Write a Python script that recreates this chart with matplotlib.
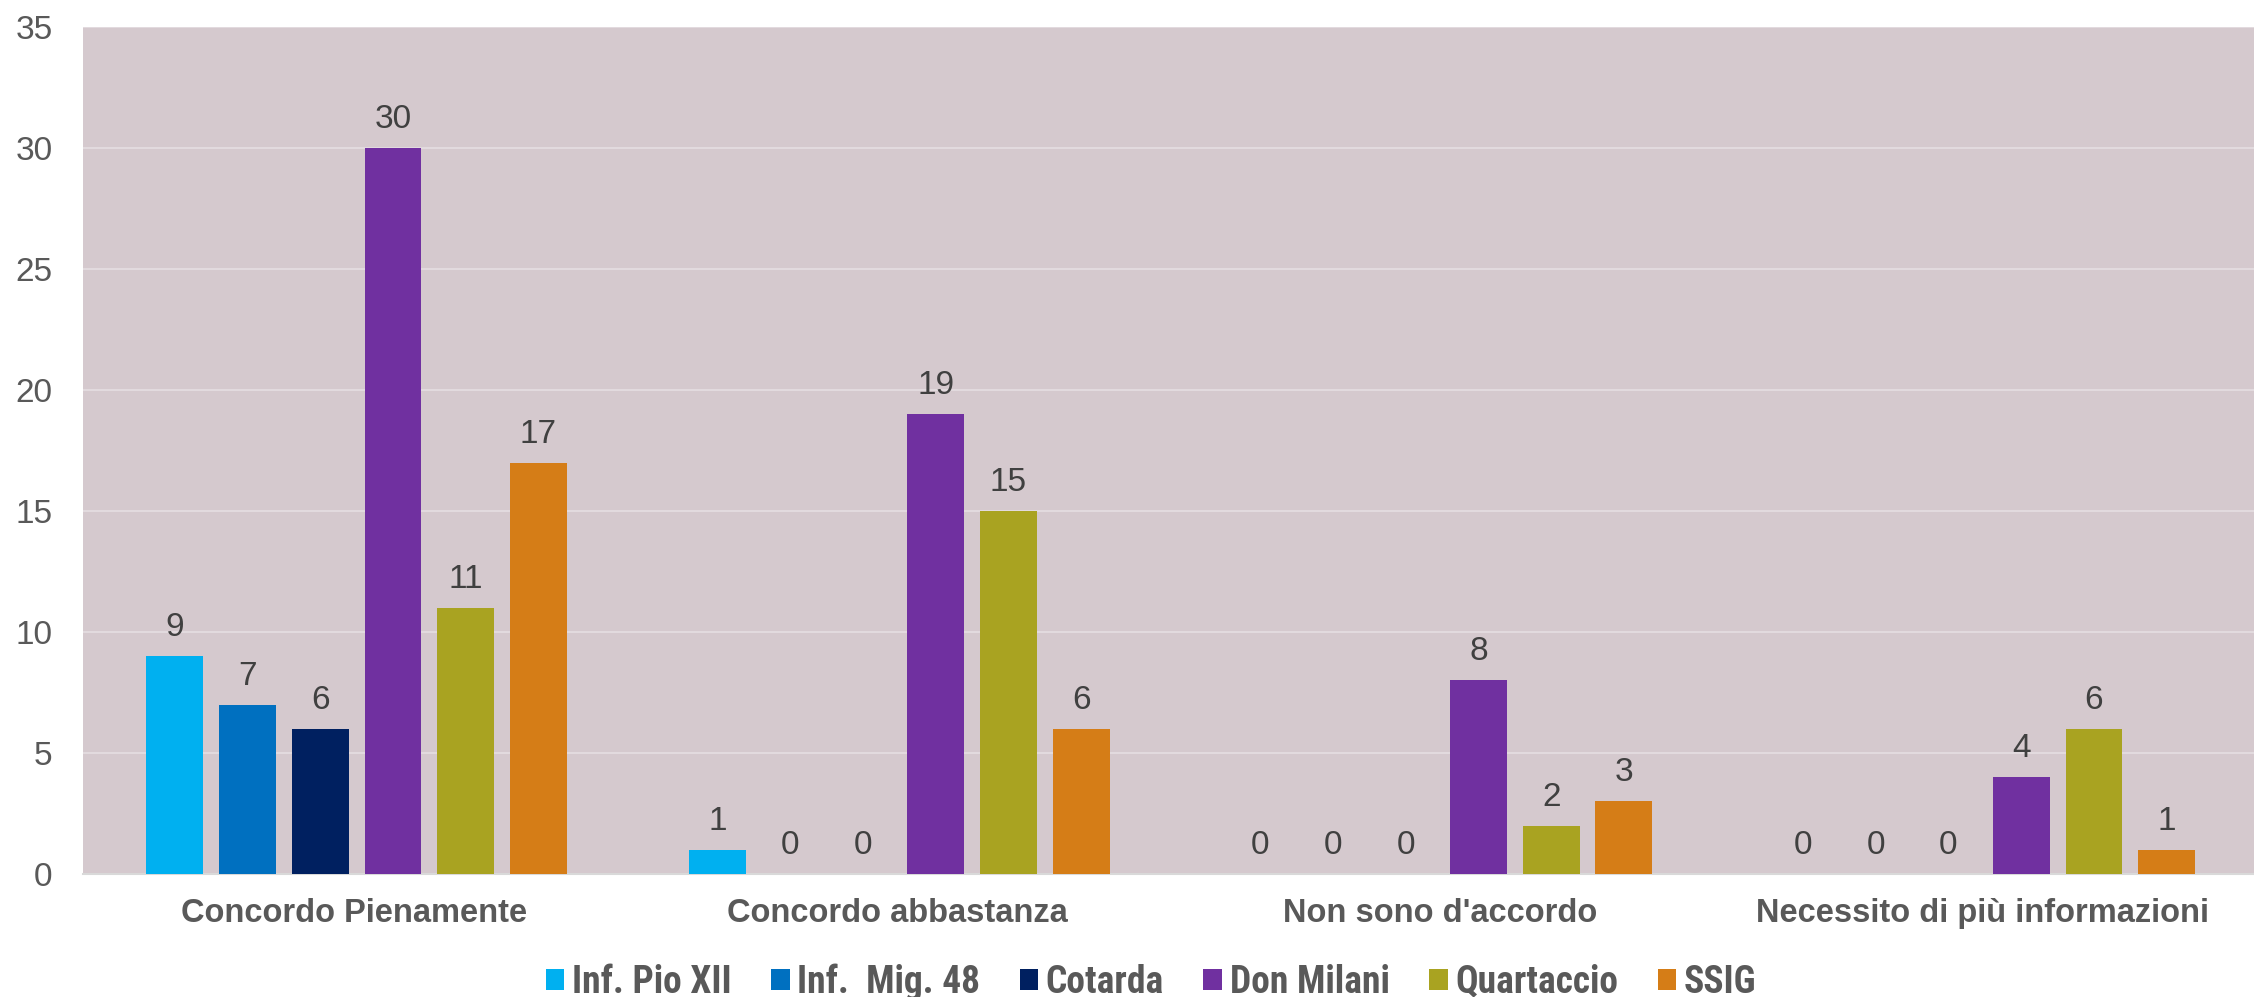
import matplotlib
matplotlib.use("Agg")
import matplotlib.pyplot as plt
import numpy as np
from matplotlib import font_manager

categories = ["Concordo Pienamente", "Concordo abbastanza", "Non sono d'accordo", "Necessito di più informazioni"]
series_names = ["Inf. Pio XII", "Inf.  Mig. 48", "Cotarda", "Don Milani", "Quartaccio", "SSIG"]
pio_xii = [9, 1, 0, 0]
mig_48 = [7, 0, 0, 0]
cotarda = [6, 0, 0, 0]
don_milani = [30, 19, 8, 4]
quartaccio = [11, 15, 2, 6]
ssig = [17, 6, 3, 1]
yticks = [0, 5, 10, 15, 20, 25, 30, 35]

series = [pio_xii, mig_48, cotarda, don_milani, quartaccio, ssig]
colors = ["#00B0F0", "#0070C0", "#002060", "#7030A0", "#A9A321", "#D57D17"]

names = {f.name for f in font_manager.fontManager.ttflist}
base = "Liberation Sans" if "Liberation Sans" in names else "DejaVu Sans"
narrow = "Roboto Condensed" if "Roboto Condensed" in names else base
plt.rcParams['font.family'] = [base, "DejaVu Sans"]

fig = plt.figure(figsize=(22.54, 9.97), dpi=100)
ax = fig.add_axes([83/2254, 1-874/997, 1-83/2254, (874-27)/997])
ax.set_facecolor("#D5C9CE")

x = np.arange(len(categories))
pitch = 0.134
width = 0.1046
for i, (vals, c, n) in enumerate(zip(series, colors, series_names)):
    pos = x + (i - 2.5) * pitch + 0.004
    bars = ax.bar(pos, vals, width=width, color=c, label=n, zorder=3)
    for b, v in zip(bars, vals):
        ax.annotate(str(v), (b.get_x() + b.get_width()/2, v), xytext=(0, 20.5),
                    textcoords="offset points", ha="center", va="center",
                    fontsize=24, color="#404040", zorder=4)

ax.set_xlim(-0.5, 3.5)
ax.set_ylim(0, 35)
ax.set_yticks(yticks)
ax.yaxis.grid(True, color="#E2DADE", linewidth=1.5, zorder=0)
ax.set_axisbelow(True)
for s in ["top", "right", "left"]:
    ax.spines[s].set_visible(False)
ax.spines["bottom"].set_color("#D9D9D9")
ax.spines["bottom"].set_linewidth(1.5)
ax.tick_params(axis="y", length=0, pad=22, labelsize=24, labelcolor="#595959")
ax.tick_params(axis="x", length=0, pad=17)
ax.set_xticks(x)
ax.set_xticklabels(categories, fontsize=23.5, fontweight="bold", color="#595959")

handles, labels = ax.get_legend_handles_labels()
leg = fig.legend(handles, labels, loc="center", bbox_to_anchor=(1151/2254, 1-982/997),
                 ncol=6, frameon=False, handlelength=0.5, handleheight=0.5,
                 handletextpad=0.2, columnspacing=1.05,
                 prop={"family": narrow, "weight": "bold", "size": 27})
for t in leg.get_texts():
    t.set_color("#595959")

fig.savefig("out.png", dpi=100)
